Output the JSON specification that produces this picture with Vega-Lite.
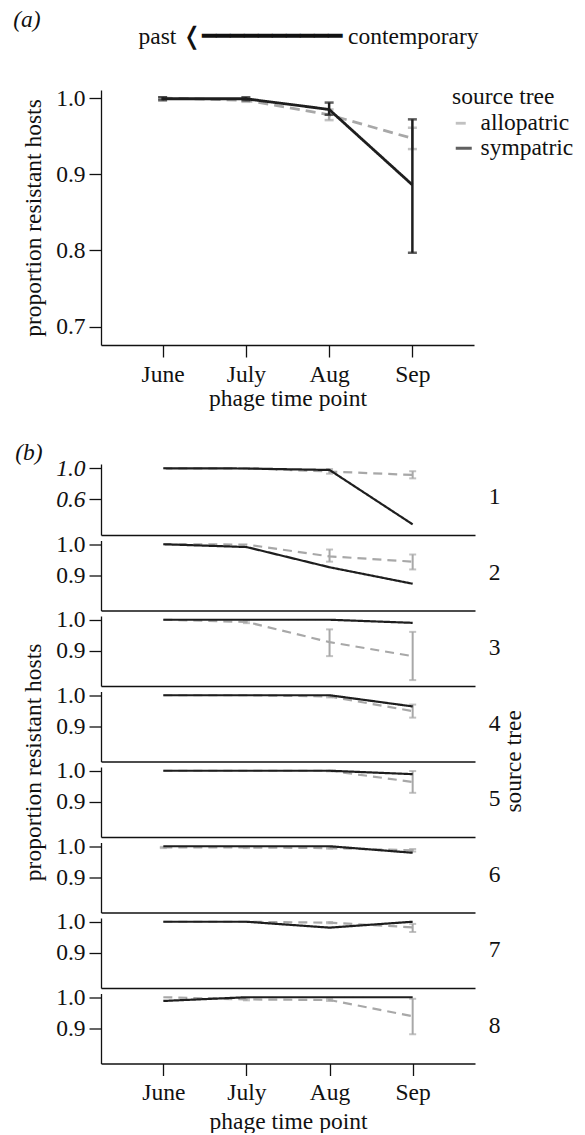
{
  "$schema": "https://vega.github.io/schema/vega-lite/v6.json",
  "padding": {"left": 13, "top": 8, "right": 0, "bottom": 0},
  "title": {"text": "(a)", "anchor": "start", "fontStyle": "italic", "offset": -7, "dx": -2, "font": "Liberation Serif"},
  "config": {
    "font": "Liberation Serif",
    "view": {"stroke": null},
    "axis": {"grid": false, "domainColor": "#111111", "domainWidth": 1.3, "tickColor": "#111111", "tickWidth": 1.3, "tickSize": 12, "labelFontSize": 23.5, "labelColor": "#111111", "titleFontSize": 23.5, "titleFontWeight": "normal", "titleColor": "#111111", "labelPadding": 4, "labelFont": "Liberation Serif", "titleFont": "Liberation Serif"},
    "axisX": {"labelAngle": 0, "labelPadding": 5, "titlePadding": 1},
    "axisY": {"titlePadding": 10},
    "legend": {"titleFontSize": 23.5, "titleFontWeight": "normal", "titleColor": "#111111", "labelFontSize": 23.5, "labelColor": "#111111", "symbolType": "stroke", "symbolStrokeWidth": 2.8, "symbolSize": 256, "labelOffset": 5, "rowPadding": 0, "titlePadding": 3, "labelFont": "Liberation Serif", "titleFont": "Liberation Serif"},
    "title": {"fontSize": 23.5, "fontWeight": "normal", "color": "#111111", "font": "Liberation Serif"}
  },
  "resolve": {"scale": {"color": "independent", "strokeDash": "independent"}},
  "datasets": {
    "a": [
      {"source": "allopatric", "month": "June", "v": 1.0, "lo": 0.999, "hi": 1.001},
      {"source": "allopatric", "month": "July", "v": 0.997, "lo": 0.995, "hi": 0.999},
      {"source": "allopatric", "month": "Aug", "v": 0.978, "lo": 0.971, "hi": 0.985},
      {"source": "allopatric", "month": "Sep", "v": 0.947, "lo": 0.933, "hi": 0.961},
      {"source": "sympatric", "month": "June", "v": 0.999, "lo": 0.997, "hi": 1.001},
      {"source": "sympatric", "month": "July", "v": 0.999, "lo": 0.997, "hi": 1.001},
      {"source": "sympatric", "month": "Aug", "v": 0.985, "lo": 0.978, "hi": 0.994},
      {"source": "sympatric", "month": "Sep", "v": 0.886, "lo": 0.797, "hi": 0.972}
    ],
    "b": [
      {"tree": 1, "source": "allopatric", "month": "June", "v": 1.0},
      {"tree": 1, "source": "allopatric", "month": "July", "v": 0.999, "lo": 0.996, "hi": 1.002},
      {"tree": 1, "source": "allopatric", "month": "Aug", "v": 0.958, "lo": 0.93, "hi": 0.99},
      {"tree": 1, "source": "allopatric", "month": "Sep", "v": 0.914, "lo": 0.87, "hi": 0.962},
      {"tree": 1, "source": "sympatric", "month": "June", "v": 1.0},
      {"tree": 1, "source": "sympatric", "month": "July", "v": 0.997},
      {"tree": 1, "source": "sympatric", "month": "Aug", "v": 0.978},
      {"tree": 1, "source": "sympatric", "month": "Sep", "v": 0.277},
      {"tree": 2, "source": "allopatric", "month": "June", "v": 1.0},
      {"tree": 2, "source": "allopatric", "month": "July", "v": 0.999},
      {"tree": 2, "source": "allopatric", "month": "Aug", "v": 0.961, "lo": 0.944, "hi": 0.983},
      {"tree": 2, "source": "allopatric", "month": "Sep", "v": 0.944, "lo": 0.919, "hi": 0.967},
      {"tree": 2, "source": "sympatric", "month": "June", "v": 1.0},
      {"tree": 2, "source": "sympatric", "month": "July", "v": 0.991},
      {"tree": 2, "source": "sympatric", "month": "Aug", "v": 0.926},
      {"tree": 2, "source": "sympatric", "month": "Sep", "v": 0.873},
      {"tree": 3, "source": "allopatric", "month": "June", "v": 1.0},
      {"tree": 3, "source": "allopatric", "month": "July", "v": 0.993, "lo": 0.989, "hi": 0.997},
      {"tree": 3, "source": "allopatric", "month": "Aug", "v": 0.928, "lo": 0.883, "hi": 0.969},
      {"tree": 3, "source": "allopatric", "month": "Sep", "v": 0.883, "lo": 0.806, "hi": 0.961},
      {"tree": 3, "source": "sympatric", "month": "June", "v": 1.0},
      {"tree": 3, "source": "sympatric", "month": "July", "v": 1.0},
      {"tree": 3, "source": "sympatric", "month": "Aug", "v": 1.0},
      {"tree": 3, "source": "sympatric", "month": "Sep", "v": 0.99},
      {"tree": 4, "source": "allopatric", "month": "June", "v": 1.0},
      {"tree": 4, "source": "allopatric", "month": "July", "v": 1.0},
      {"tree": 4, "source": "allopatric", "month": "Aug", "v": 0.996, "lo": 0.993, "hi": 0.999},
      {"tree": 4, "source": "allopatric", "month": "Sep", "v": 0.949, "lo": 0.928, "hi": 0.97},
      {"tree": 4, "source": "sympatric", "month": "June", "v": 1.0},
      {"tree": 4, "source": "sympatric", "month": "July", "v": 1.0},
      {"tree": 4, "source": "sympatric", "month": "Aug", "v": 1.0},
      {"tree": 4, "source": "sympatric", "month": "Sep", "v": 0.964},
      {"tree": 5, "source": "allopatric", "month": "June", "v": 1.0},
      {"tree": 5, "source": "allopatric", "month": "July", "v": 1.0},
      {"tree": 5, "source": "allopatric", "month": "Aug", "v": 1.0, "lo": 0.998, "hi": 1.0},
      {"tree": 5, "source": "allopatric", "month": "Sep", "v": 0.964, "lo": 0.929, "hi": 0.999},
      {"tree": 5, "source": "sympatric", "month": "June", "v": 1.0},
      {"tree": 5, "source": "sympatric", "month": "July", "v": 1.0},
      {"tree": 5, "source": "sympatric", "month": "Aug", "v": 1.0},
      {"tree": 5, "source": "sympatric", "month": "Sep", "v": 0.989},
      {"tree": 6, "source": "allopatric", "month": "June", "v": 0.996, "lo": 0.994, "hi": 0.998},
      {"tree": 6, "source": "allopatric", "month": "July", "v": 0.996, "lo": 0.994, "hi": 0.998},
      {"tree": 6, "source": "allopatric", "month": "Aug", "v": 0.994, "lo": 0.992, "hi": 0.996},
      {"tree": 6, "source": "allopatric", "month": "Sep", "v": 0.987, "lo": 0.983, "hi": 0.991},
      {"tree": 6, "source": "sympatric", "month": "June", "v": 1.0},
      {"tree": 6, "source": "sympatric", "month": "July", "v": 1.0},
      {"tree": 6, "source": "sympatric", "month": "Aug", "v": 1.0},
      {"tree": 6, "source": "sympatric", "month": "Sep", "v": 0.979},
      {"tree": 7, "source": "allopatric", "month": "June", "v": 1.0},
      {"tree": 7, "source": "allopatric", "month": "July", "v": 1.0},
      {"tree": 7, "source": "allopatric", "month": "Aug", "v": 0.997, "lo": 0.995, "hi": 0.999},
      {"tree": 7, "source": "allopatric", "month": "Sep", "v": 0.982, "lo": 0.967, "hi": 0.993},
      {"tree": 7, "source": "sympatric", "month": "June", "v": 1.0},
      {"tree": 7, "source": "sympatric", "month": "July", "v": 1.0},
      {"tree": 7, "source": "sympatric", "month": "Aug", "v": 0.981},
      {"tree": 7, "source": "sympatric", "month": "Sep", "v": 1.0},
      {"tree": 8, "source": "allopatric", "month": "June", "v": 1.0},
      {"tree": 8, "source": "allopatric", "month": "July", "v": 0.993, "lo": 0.99, "hi": 0.996},
      {"tree": 8, "source": "allopatric", "month": "Aug", "v": 0.991, "lo": 0.988, "hi": 0.994},
      {"tree": 8, "source": "allopatric", "month": "Sep", "v": 0.939, "lo": 0.881, "hi": 0.995},
      {"tree": 8, "source": "sympatric", "month": "June", "v": 0.988},
      {"tree": 8, "source": "sympatric", "month": "July", "v": 1.0},
      {"tree": 8, "source": "sympatric", "month": "Aug", "v": 1.0},
      {"tree": 8, "source": "sympatric", "month": "Sep", "v": 1.0}
    ]
  },
  "spacing": 30,
  "vconcat": [
    {
      "width": 373, "height": 255,
      "title": {"text": "past ❬━━━━━━━━━━ contemporary", "frame": "group", "anchor": "middle", "dx": 21, "offset": 37, "font": "Liberation Serif"},
      "data": {"name": "a"},
      "encoding": {"x": {"field": "month", "type": "ordinal", "sort": ["June", "July", "Aug", "Sep"], "scale": {"type": "point", "padding": 0.74}, "axis": {"title": "phage time point"}}},
      "layer": [
        {"transform": [{"filter": "datum.source == 'allopatric'"}], "mark": {"type": "errorbar", "ticks": true, "size": 9, "thickness": 2.5},
         "encoding": {"y": {"field": "lo", "type": "quantitative", "scale": {"domain": [0.676, 1.0105], "nice": false, "zero": false}, "axis": {"title": "proportion resistant hosts", "values": [0.7, 0.8, 0.9, 1.0], "format": ".1f"}}, "y2": {"field": "hi"},
           "color": {"field": "source", "type": "nominal", "scale": {"domain": ["allopatric", "sympatric"], "range": ["#a8a8a8", "#1e1e1e"]}, "legend": {"title": "source tree", "orient": "none", "legendX": 351, "legendY": -5}}}},
        {"mark": {"type": "line", "strokeWidth": 2.8},
         "encoding": {"y": {"field": "v", "type": "quantitative", "scale": {"domain": [0.676, 1.0105], "nice": false, "zero": false}, "axis": {"title": "proportion resistant hosts", "values": [0.7, 0.8, 0.9, 1.0], "format": ".1f"}},
           "color": {"field": "source", "type": "nominal", "scale": {"domain": ["allopatric", "sympatric"], "range": ["#a8a8a8", "#1e1e1e"]}, "legend": {"title": "source tree", "orient": "none", "legendX": 351, "legendY": -5}},
           "strokeDash": {"field": "source", "type": "nominal", "scale": {"domain": ["allopatric", "sympatric"], "range": [[10, 6], [1, 0]]}, "legend": {"title": "source tree", "orient": "none", "legendX": 351, "legendY": -5}}}},
        {"transform": [{"filter": "datum.source == 'sympatric'"}], "mark": {"type": "errorbar", "ticks": true, "size": 9, "thickness": 2.5},
         "encoding": {"y": {"field": "lo", "type": "quantitative", "scale": {"domain": [0.676, 1.0105], "nice": false, "zero": false}, "axis": {"title": "proportion resistant hosts", "values": [0.7, 0.8, 0.9, 1.0], "format": ".1f"}}, "y2": {"field": "hi"},
           "color": {"field": "source", "type": "nominal", "scale": {"domain": ["allopatric", "sympatric"], "range": ["#a8a8a8", "#1e1e1e"]}, "legend": {"title": "source tree", "orient": "none", "legendX": 351, "legendY": -5}}}}
      ]
    },
    {
      "title": {"text": "(b)", "anchor": "start", "fontStyle": "italic", "offset": -8, "dx": -7, "font": "Liberation Serif"},
      "vconcat": [
        {
          "title": {"text": "proportion resistant hosts", "orient": "left", "anchor": "middle", "offset": 10, "dx": 32, "font": "Liberation Serif"},
          "vconcat": [
            {
              "title": {"text": "source tree", "orient": "right", "angle": -90, "anchor": "middle", "offset": -22, "dx": 33, "font": "Liberation Serif"},
              "bounds": "flush",
              "spacing": 5.5,
              "vconcat": [
                {"width": 374, "height": 71,
                 "title": {"text": "1", "orient": "right", "angle": 0, "align": "left", "baseline": "middle", "offset": 2, "dy": -3},
                 "data": {"name": "b"}, "transform": [{"filter": "datum.tree == 1"}],
                 "encoding": {"x": {"field": "month", "type": "ordinal", "sort": ["June", "July", "Aug", "Sep"], "scale": {"type": "point", "padding": 0.75}, "axis": {"title": null, "labels": false, "ticks": false}}},
                 "layer": [
                   {"transform": [{"filter": "isValid(datum.lo)"}], "mark": {"type": "errorbar", "ticks": true, "size": 7, "thickness": 2},
                    "encoding": {"y": {"field": "lo", "type": "quantitative", "scale": {"domain": [0.14, 1.055], "nice": false, "zero": false}, "axis": {"title": null, "values": [0.6, 1.0], "format": ".1f", "labelFontStyle": "italic"}}, "y2": {"field": "hi"},
                      "color": {"field": "source", "type": "nominal", "scale": {"domain": ["allopatric", "sympatric"], "range": ["#a8a8a8", "#1e1e1e"]}, "legend": null}}},
                   {"mark": {"type": "line", "strokeWidth": 2.2},
                    "encoding": {"y": {"field": "v", "type": "quantitative", "scale": {"domain": [0.14, 1.055], "nice": false, "zero": false}, "axis": {"title": null, "values": [0.6, 1.0], "format": ".1f", "labelFontStyle": "italic"}},
                      "color": {"field": "source", "type": "nominal", "scale": {"domain": ["allopatric", "sympatric"], "range": ["#a8a8a8", "#1e1e1e"]}, "legend": null},
                      "strokeDash": {"field": "source", "type": "nominal", "scale": {"domain": ["allopatric", "sympatric"], "range": [[9, 6], [1, 0]]}, "legend": null}}}
                 ]},
                {"width": 374, "height": 70,
                 "title": {"text": "2", "orient": "right", "angle": 0, "align": "left", "baseline": "middle", "offset": 2, "dy": -3},
                 "data": {"name": "b"}, "transform": [{"filter": "datum.tree == 2"}],
                 "encoding": {"x": {"field": "month", "type": "ordinal", "sort": ["June", "July", "Aug", "Sep"], "scale": {"type": "point", "padding": 0.75}, "axis": {"title": null, "labels": false, "ticks": false}}},
                 "layer": [
                   {"transform": [{"filter": "isValid(datum.lo)"}], "mark": {"type": "errorbar", "ticks": true, "size": 7, "thickness": 2},
                    "encoding": {"y": {"field": "lo", "type": "quantitative", "scale": {"domain": [0.787, 1.012], "nice": false, "zero": false}, "axis": {"title": null, "values": [0.9, 1.0], "format": ".1f"}}, "y2": {"field": "hi"},
                      "color": {"field": "source", "type": "nominal", "scale": {"domain": ["allopatric", "sympatric"], "range": ["#a8a8a8", "#1e1e1e"]}, "legend": null}}},
                   {"mark": {"type": "line", "strokeWidth": 2.2},
                    "encoding": {"y": {"field": "v", "type": "quantitative", "scale": {"domain": [0.787, 1.012], "nice": false, "zero": false}, "axis": {"title": null, "values": [0.9, 1.0], "format": ".1f"}},
                      "color": {"field": "source", "type": "nominal", "scale": {"domain": ["allopatric", "sympatric"], "range": ["#a8a8a8", "#1e1e1e"]}, "legend": null},
                      "strokeDash": {"field": "source", "type": "nominal", "scale": {"domain": ["allopatric", "sympatric"], "range": [[9, 6], [1, 0]]}, "legend": null}}}
                 ]},
                {"width": 374, "height": 70,
                 "title": {"text": "3", "orient": "right", "angle": 0, "align": "left", "baseline": "middle", "offset": 2, "dy": -3},
                 "data": {"name": "b"}, "transform": [{"filter": "datum.tree == 3"}],
                 "encoding": {"x": {"field": "month", "type": "ordinal", "sort": ["June", "July", "Aug", "Sep"], "scale": {"type": "point", "padding": 0.75}, "axis": {"title": null, "labels": false, "ticks": false}}},
                 "layer": [
                   {"transform": [{"filter": "isValid(datum.lo)"}], "mark": {"type": "errorbar", "ticks": true, "size": 7, "thickness": 2},
                    "encoding": {"y": {"field": "lo", "type": "quantitative", "scale": {"domain": [0.787, 1.012], "nice": false, "zero": false}, "axis": {"title": null, "values": [0.9, 1.0], "format": ".1f"}}, "y2": {"field": "hi"},
                      "color": {"field": "source", "type": "nominal", "scale": {"domain": ["allopatric", "sympatric"], "range": ["#a8a8a8", "#1e1e1e"]}, "legend": null}}},
                   {"mark": {"type": "line", "strokeWidth": 2.2},
                    "encoding": {"y": {"field": "v", "type": "quantitative", "scale": {"domain": [0.787, 1.012], "nice": false, "zero": false}, "axis": {"title": null, "values": [0.9, 1.0], "format": ".1f"}},
                      "color": {"field": "source", "type": "nominal", "scale": {"domain": ["allopatric", "sympatric"], "range": ["#a8a8a8", "#1e1e1e"]}, "legend": null},
                      "strokeDash": {"field": "source", "type": "nominal", "scale": {"domain": ["allopatric", "sympatric"], "range": [[9, 6], [1, 0]]}, "legend": null}}}
                 ]},
                {"width": 374, "height": 70,
                 "title": {"text": "4", "orient": "right", "angle": 0, "align": "left", "baseline": "middle", "offset": 2, "dy": -3},
                 "data": {"name": "b"}, "transform": [{"filter": "datum.tree == 4"}],
                 "encoding": {"x": {"field": "month", "type": "ordinal", "sort": ["June", "July", "Aug", "Sep"], "scale": {"type": "point", "padding": 0.75}, "axis": {"title": null, "labels": false, "ticks": false}}},
                 "layer": [
                   {"transform": [{"filter": "isValid(datum.lo)"}], "mark": {"type": "errorbar", "ticks": true, "size": 7, "thickness": 2},
                    "encoding": {"y": {"field": "lo", "type": "quantitative", "scale": {"domain": [0.787, 1.012], "nice": false, "zero": false}, "axis": {"title": null, "values": [0.9, 1.0], "format": ".1f"}}, "y2": {"field": "hi"},
                      "color": {"field": "source", "type": "nominal", "scale": {"domain": ["allopatric", "sympatric"], "range": ["#a8a8a8", "#1e1e1e"]}, "legend": null}}},
                   {"mark": {"type": "line", "strokeWidth": 2.2},
                    "encoding": {"y": {"field": "v", "type": "quantitative", "scale": {"domain": [0.787, 1.012], "nice": false, "zero": false}, "axis": {"title": null, "values": [0.9, 1.0], "format": ".1f"}},
                      "color": {"field": "source", "type": "nominal", "scale": {"domain": ["allopatric", "sympatric"], "range": ["#a8a8a8", "#1e1e1e"]}, "legend": null},
                      "strokeDash": {"field": "source", "type": "nominal", "scale": {"domain": ["allopatric", "sympatric"], "range": [[9, 6], [1, 0]]}, "legend": null}}}
                 ]},
                {"width": 374, "height": 70,
                 "title": {"text": "5", "orient": "right", "angle": 0, "align": "left", "baseline": "middle", "offset": 2, "dy": -3},
                 "data": {"name": "b"}, "transform": [{"filter": "datum.tree == 5"}],
                 "encoding": {"x": {"field": "month", "type": "ordinal", "sort": ["June", "July", "Aug", "Sep"], "scale": {"type": "point", "padding": 0.75}, "axis": {"title": null, "labels": false, "ticks": false}}},
                 "layer": [
                   {"transform": [{"filter": "isValid(datum.lo)"}], "mark": {"type": "errorbar", "ticks": true, "size": 7, "thickness": 2},
                    "encoding": {"y": {"field": "lo", "type": "quantitative", "scale": {"domain": [0.787, 1.012], "nice": false, "zero": false}, "axis": {"title": null, "values": [0.9, 1.0], "format": ".1f"}}, "y2": {"field": "hi"},
                      "color": {"field": "source", "type": "nominal", "scale": {"domain": ["allopatric", "sympatric"], "range": ["#a8a8a8", "#1e1e1e"]}, "legend": null}}},
                   {"mark": {"type": "line", "strokeWidth": 2.2},
                    "encoding": {"y": {"field": "v", "type": "quantitative", "scale": {"domain": [0.787, 1.012], "nice": false, "zero": false}, "axis": {"title": null, "values": [0.9, 1.0], "format": ".1f"}},
                      "color": {"field": "source", "type": "nominal", "scale": {"domain": ["allopatric", "sympatric"], "range": ["#a8a8a8", "#1e1e1e"]}, "legend": null},
                      "strokeDash": {"field": "source", "type": "nominal", "scale": {"domain": ["allopatric", "sympatric"], "range": [[9, 6], [1, 0]]}, "legend": null}}}
                 ]},
                {"width": 374, "height": 70,
                 "title": {"text": "6", "orient": "right", "angle": 0, "align": "left", "baseline": "middle", "offset": 2, "dy": -3},
                 "data": {"name": "b"}, "transform": [{"filter": "datum.tree == 6"}],
                 "encoding": {"x": {"field": "month", "type": "ordinal", "sort": ["June", "July", "Aug", "Sep"], "scale": {"type": "point", "padding": 0.75}, "axis": {"title": null, "labels": false, "ticks": false}}},
                 "layer": [
                   {"transform": [{"filter": "isValid(datum.lo)"}], "mark": {"type": "errorbar", "ticks": true, "size": 7, "thickness": 2},
                    "encoding": {"y": {"field": "lo", "type": "quantitative", "scale": {"domain": [0.787, 1.012], "nice": false, "zero": false}, "axis": {"title": null, "values": [0.9, 1.0], "format": ".1f"}}, "y2": {"field": "hi"},
                      "color": {"field": "source", "type": "nominal", "scale": {"domain": ["allopatric", "sympatric"], "range": ["#a8a8a8", "#1e1e1e"]}, "legend": null}}},
                   {"mark": {"type": "line", "strokeWidth": 2.2},
                    "encoding": {"y": {"field": "v", "type": "quantitative", "scale": {"domain": [0.787, 1.012], "nice": false, "zero": false}, "axis": {"title": null, "values": [0.9, 1.0], "format": ".1f"}},
                      "color": {"field": "source", "type": "nominal", "scale": {"domain": ["allopatric", "sympatric"], "range": ["#a8a8a8", "#1e1e1e"]}, "legend": null},
                      "strokeDash": {"field": "source", "type": "nominal", "scale": {"domain": ["allopatric", "sympatric"], "range": [[9, 6], [1, 0]]}, "legend": null}}}
                 ]},
                {"width": 374, "height": 70,
                 "title": {"text": "7", "orient": "right", "angle": 0, "align": "left", "baseline": "middle", "offset": 2, "dy": -3},
                 "data": {"name": "b"}, "transform": [{"filter": "datum.tree == 7"}],
                 "encoding": {"x": {"field": "month", "type": "ordinal", "sort": ["June", "July", "Aug", "Sep"], "scale": {"type": "point", "padding": 0.75}, "axis": {"title": null, "labels": false, "ticks": false}}},
                 "layer": [
                   {"transform": [{"filter": "isValid(datum.lo)"}], "mark": {"type": "errorbar", "ticks": true, "size": 7, "thickness": 2},
                    "encoding": {"y": {"field": "lo", "type": "quantitative", "scale": {"domain": [0.787, 1.012], "nice": false, "zero": false}, "axis": {"title": null, "values": [0.9, 1.0], "format": ".1f"}}, "y2": {"field": "hi"},
                      "color": {"field": "source", "type": "nominal", "scale": {"domain": ["allopatric", "sympatric"], "range": ["#a8a8a8", "#1e1e1e"]}, "legend": null}}},
                   {"mark": {"type": "line", "strokeWidth": 2.2},
                    "encoding": {"y": {"field": "v", "type": "quantitative", "scale": {"domain": [0.787, 1.012], "nice": false, "zero": false}, "axis": {"title": null, "values": [0.9, 1.0], "format": ".1f"}},
                      "color": {"field": "source", "type": "nominal", "scale": {"domain": ["allopatric", "sympatric"], "range": ["#a8a8a8", "#1e1e1e"]}, "legend": null},
                      "strokeDash": {"field": "source", "type": "nominal", "scale": {"domain": ["allopatric", "sympatric"], "range": [[9, 6], [1, 0]]}, "legend": null}}}
                 ]},
                {"width": 374, "height": 70,
                 "title": {"text": "8", "orient": "right", "angle": 0, "align": "left", "baseline": "middle", "offset": 2, "dy": -3},
                 "data": {"name": "b"}, "transform": [{"filter": "datum.tree == 8"}],
                 "encoding": {"x": {"field": "month", "type": "ordinal", "sort": ["June", "July", "Aug", "Sep"], "scale": {"type": "point", "padding": 0.75}, "axis": {"title": "phage time point", "titlePadding": 5}}},
                 "layer": [
                   {"transform": [{"filter": "isValid(datum.lo)"}], "mark": {"type": "errorbar", "ticks": true, "size": 7, "thickness": 2},
                    "encoding": {"y": {"field": "lo", "type": "quantitative", "scale": {"domain": [0.787, 1.012], "nice": false, "zero": false}, "axis": {"title": null, "values": [0.9, 1.0], "format": ".1f"}}, "y2": {"field": "hi"},
                      "color": {"field": "source", "type": "nominal", "scale": {"domain": ["allopatric", "sympatric"], "range": ["#a8a8a8", "#1e1e1e"]}, "legend": null}}},
                   {"mark": {"type": "line", "strokeWidth": 2.2},
                    "encoding": {"y": {"field": "v", "type": "quantitative", "scale": {"domain": [0.787, 1.012], "nice": false, "zero": false}, "axis": {"title": null, "values": [0.9, 1.0], "format": ".1f"}},
                      "color": {"field": "source", "type": "nominal", "scale": {"domain": ["allopatric", "sympatric"], "range": ["#a8a8a8", "#1e1e1e"]}, "legend": null},
                      "strokeDash": {"field": "source", "type": "nominal", "scale": {"domain": ["allopatric", "sympatric"], "range": [[9, 6], [1, 0]]}, "legend": null}}}
                 ]}
              ]
            }
          ]
        }
      ]
    }
  ]
}
